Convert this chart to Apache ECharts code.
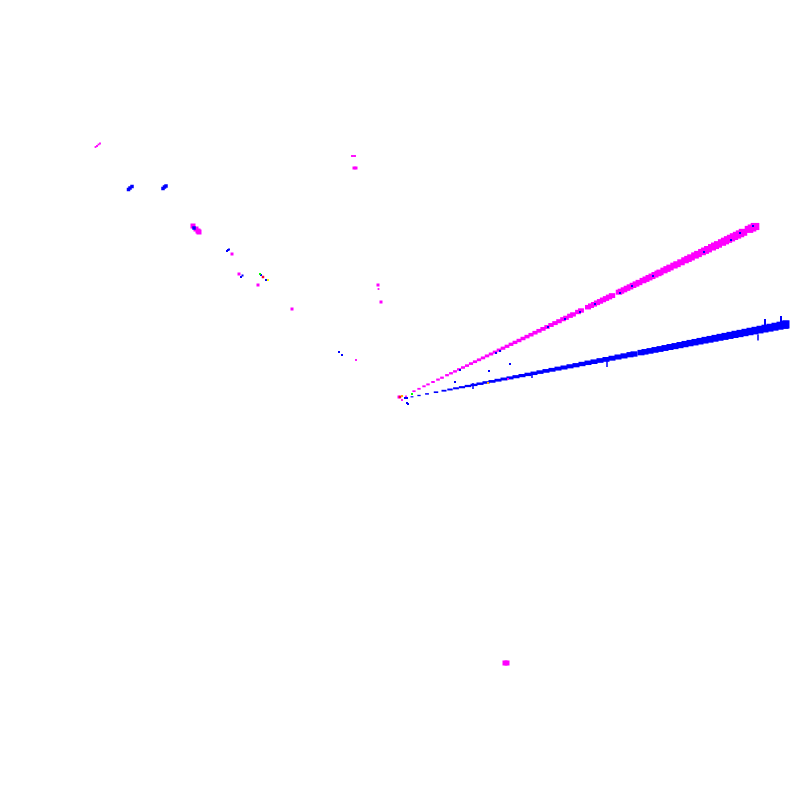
<!DOCTYPE html>
<html><head><meta charset="utf-8">
<style>html,body{margin:0;padding:0;background:#fff}#c{width:800px;height:800px}</style>
<script src="https://cdn.jsdelivr.net/npm/echarts@6/dist/echarts.min.js"></script>
</head><body><div id="c"></div>
<script>
const blueRay=[[12,3.2],[19,4.5],[27,6.1],[36,7.8],[44,9.3],[50,10.5],[56,11.7],[62,12.8],[68,14],[74,15.1],[80,16.3],[86,17.5],[92,18.6],[98,19.8],[104,21],[110,22.1],[116,23.3],[122,24.4],[128,25.6],[134,26.7],[140,27.9],[146,29.1],[152,30.2],[158,31.4],[164,32.5],[170,33.7],[176,34.8],[182,36],[188,37.2],[194,38.3],[200,39.5],[206,40.6],[212,41.8],[218,43],[224,44.1],[230,45.3],[234,46],[241,47.4],[245,48.2],[250,49.1],[255,50.1],[260,51],[265,52],[270,53],[275,53.9],[280,54.9],[285,55.9],[290,56.9],[295,57.8],[300,58.8],[305,59.8],[310,60.7],[315,61.7],[320,62.7],[325,63.6],[330,64.6],[335,65.6],[340,66.5],[345,67.5],[350,68.5],[355,69.4],[360,70.4],[365,71.4],[370,72.3],[375,73.3],[380,74.3],[385,75.2],[386,75.6]];
const magentaRay=[[14,8.8],[19,11.2],[24,13.7],[28,15.6],[33,18],[38,20.4],[42,22.3],[47,24.8],[51,26.7],[55,28.6],[59,30.6],[63,32.5],[67,34.4],[71,36.4],[75,38.3],[79,40.2],[83,42.1],[87,44.1],[91,46],[95,47.9],[99,49.9],[103,51.8],[107,53.7],[111,55.7],[115,57.6],[119,59.5],[123,61.5],[127,63.4],[131,65.3],[135,67.3],[139,69.2],[143,71.1],[147,73],[151,75],[155,76.9],[159,78.8],[163,80.8],[166,82.2],[170,84.2],[173,85.6],[178,88],[181,89.5],[188,92.8],[191,94.3],[194,95.7],[197,97.2],[200,98.6],[203,100.1],[206,101.5],[209,103],[212,104.4],[219,107.8],[221,108.8],[224,110.2],[227,111.7],[230,113.1],[233,114.6],[236,116],[239,117.5],[243,119.4],[246,120.8],[249,122.3],[252,123.7],[255,125.2],[258,126.6],[260,127.6],[264,129.5],[267,131],[270,132.5],[274,134.4],[277,135.8],[281,137.7],[285,139.7],[288,141.1],[291,142.6],[295,144.5],[298,146],[302,147.9],[305,149.3],[308,150.8],[312,152.7],[315,154.2],[318,155.6],[322,157.5],[325,159],[328,160.5],[331,161.9],[334,163.4],[337,164.8],[340,166.2],[343,167.7],[349,170.6],[352,172],[355,173.5]];
const magentaBlob=[[-207,174],[-204,171],[-202,169],[-201,168],[105,-263],[107,-263]];
const magentaSpots=[[-168,146],[-161,126],[-142,115],[-108,91],[-22,115],[-19,98],[-46,232],[-44,232],[-1,3]];
const magentaDots=[[-304.5,253],[-303,254],[-301.5,255.5],[-300,256.5],[-48,244],[-46.5,244],[-45,244],[-21.5,111],[-44,40],[2,0],[6,3.7],[108,21]];
const blueBlobs=[[-271.5,210.5],[-270,212],[-268,213.5],[-237,211.5],[-235.5,213],[-234,214],[-206,172]];
const blueDots=[[-172,150],[-173,149],[-171,150.5],[-159,123],[-157.5,124.5],[-139,125],[-134,120],[-61,48],[-58,45],[5,2],[7,2],[7,-3],[8,-4],[55,18],[89,29],[110,36],[60,30],[96,47],[100,49],[304,148],[331,160],[340,167],[353,174],[165,81],[148,73],[180,88],[195,96],[220,107],[232,114],[253,124]];
const longSpikes=[[365,76.5],[381,79.5]];
const shortSpikes=[[358,62.5],[207,36],[132,25],[73,14]];
const greenDots=[[-140,126],[12,6]];
const redDots=[[-137,123],[0,3]];
const orangeDots=[[2,4],[88,17]];
const yellowDots=[[-132,120]];

const BLUE='#0000ff',MAG='#ff00ff';
const dist=v=>Math.hypot(v[0],v[1]);
const pts=(name,data,color,size,symbol)=>({name,type:'scatter',data,symbol:symbol||'rect',symbolSize:size,
  itemStyle:{color,opacity:1},silent:true,animation:false});
const chart=echarts.init(document.getElementById('c'),null,{renderer:'canvas'});
chart.setOption({
  backgroundColor:'#ffffff',animation:false,
  grid:{left:0,right:0,top:0,bottom:0},
  xAxis:{type:'value',min:-400,max:400,show:false},
  yAxis:{type:'value',min:-400,max:400,show:false},
  series:[
    pts('blue ray',blueRay,BLUE,v=>[Math.min(7,2+dist(v)/15),1+dist(v)/55]),
    pts('spikes',longSpikes,BLUE,[2,9]),
    pts('short spikes',shortSpikes,BLUE,[1.5,6]),
    pts('magenta ray',magentaRay,MAG,v=>[3+dist(v)/70,1.5+dist(v)/70]),
    pts('magenta blobs',magentaBlob,MAG,5),
    pts('magenta spots',magentaSpots,MAG,3),
    pts('magenta dots',magentaDots,MAG,1.8),
    pts('blue blobs',blueBlobs,BLUE,3.5),
    pts('blue dots',blueDots,BLUE,2),
    pts('green',greenDots,'#00ff00',2),
    pts('red',redDots,'#ff0033',2.5),
    pts('orange',orangeDots,'#ffaa00',2),
    pts('yellow',yellowDots,'#ffff00',2)
  ]
});
</script></body></html>
